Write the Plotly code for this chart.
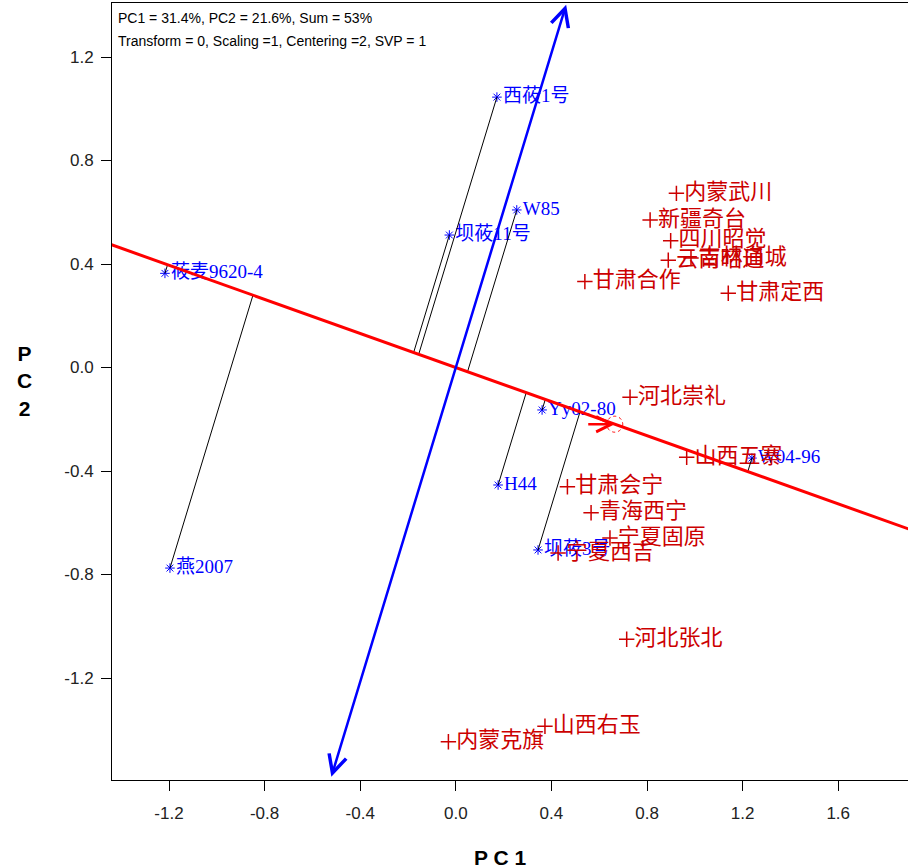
import numpy as np
import plotly.graph_objects as go

# Genotype scores on PC1 / PC2
genotypes = ["西莜1号", "W85", "坝莜11号", "莜麦9620-4", "燕2007",
             "H44", "Yy02-80", "坝莜3号", "W04-96"]
geno_pc1 = [0.172, 0.255, -0.027, -1.217, -1.196, 0.177, 0.361, 0.344, 1.239]
geno_pc2 = [1.045, 0.609, 0.512, 0.364, -0.775, -0.454, -0.164, -0.705, -0.350]

# Environment scores on PC1 / PC2
environments = ["内蒙武川", "新疆奇台", "四川昭觉", "云南昭通", "吉林白城",
                "甘肃合作", "甘肃定西", "河北崇礼", "山西五寨", "甘肃会宁",
                "青海西宁", "宁夏固原", "宁夏西吉", "河北张北", "山西右玉", "内蒙克旗"]
env_pc1 = [0.923, 0.813, 0.899, 0.889, 0.984, 0.540, 1.140, 0.729, 0.966,
           0.467, 0.566, 0.645, 0.428, 0.715, 0.373, -0.031]
env_pc2 = [0.673, 0.570, 0.490, 0.415, 0.423, 0.332, 0.287, -0.115, -0.347,
           -0.461, -0.561, -0.659, -0.717, -1.050, -1.386, -1.446]

# Average environment coordinate (defines the AEC abscissa)
avg_env = [0.665, -0.219]
# Extent of the AEC ordinate along its direction (bottom, top)
ordinate_ends = [-1.671, 1.476]

tick_vals = [-1.2, -0.8, -0.4, 0.0, 0.4, 0.8, 1.2, 1.6]
ytick_vals = [-1.2, -0.8, -0.4, 0.0, 0.4, 0.8, 1.2]

BLUE = "#0000ff"
RED_TXT = "#cc0000"
RED_LINE = "#ff0000"
LABEL_FONT_G = "Liberation Serif, Noto Sans CJK SC, serif"
LABEL_FONT_E = "Noto Sans CJK SC, sans-serif"
AX_FONT = "Liberation Sans, Arial, sans-serif"

# unit vectors of the abscissa (u) and ordinate (v)
u = np.array(avg_env) / np.linalg.norm(avg_env)
v = np.array([-u[1], u[0]])
if v[1] < 0:
    v = -v

fig = go.Figure()

# genotype labels
fig.add_trace(go.Scatter(
    x=geno_pc1, y=geno_pc2, mode="markers+text",
    text=genotypes, textposition="middle right",
    textfont=dict(family=LABEL_FONT_G, size=19, color=BLUE),
    marker=dict(symbol="asterisk-open", size=8, line=dict(width=1, color=BLUE), color=BLUE),
    hoverinfo="skip", showlegend=False, cliponaxis=False))

# environment labels
fig.add_trace(go.Scatter(
    x=env_pc1, y=env_pc2, mode="markers+text",
    text=environments, textposition="middle right",
    textfont=dict(family=LABEL_FONT_E, size=22, color=RED_TXT),
    marker=dict(symbol="cross-thin-open", size=11, line=dict(width=1.5, color=RED_TXT), color=RED_TXT),
    hoverinfo="skip", showlegend=False, cliponaxis=False))

# perpendicular projections of genotypes onto the abscissa
px_, py_ = [], []
for gx, gy in zip(geno_pc1, geno_pc2):
    t = gx * u[0] + gy * u[1]
    px_ += [gx, t * u[0], None]
    py_ += [gy, t * u[1], None]
fig.add_trace(go.Scatter(x=px_, y=py_, mode="lines",
                         line=dict(color="black", width=1),
                         hoverinfo="skip", showlegend=False))

# abscissa through the origin and the average environment
ts = np.array([-1.7, 2.2])
fig.add_trace(go.Scatter(x=ts * u[0], y=ts * u[1], mode="lines",
                         line=dict(color=RED_LINE, width=3),
                         hoverinfo="skip", showlegend=False))

# ordinate with arrowheads at both ends
b0, b1 = ordinate_ends
fig.add_annotation(x=b1 * v[0], y=b1 * v[1], ax=b0 * v[0], ay=b0 * v[1],
                   xref="x", yref="y", axref="x", ayref="y", text="",
                   showarrow=True, arrowhead=5, startarrowhead=5, arrowside="end+start",
                   arrowwidth=2.5, arrowsize=1.4, startarrowsize=1.4, arrowcolor=BLUE)

# arrow marking the average environment
fig.add_annotation(x=avg_env[0], y=avg_env[1], ax=-28, ay=0, text="",
                   showarrow=True, arrowhead=5, arrowwidth=2.5, arrowsize=1.2,
                   arrowcolor=RED_LINE)
fig.add_shape(type="circle", xref="x", yref="y", xsizemode="pixel", ysizemode="pixel",
              xanchor=avg_env[0], yanchor=avg_env[1], x0=-8, x1=8, y0=-8, y1=8,
              line=dict(color=RED_LINE, width=1, dash="dot"), layer="above")

# header text
fig.add_annotation(xref="paper", yref="paper", x=0.005, y=0.9807, xanchor="left", yanchor="middle",
                   text="PC1 = 31.4%, PC2 = 21.6%, Sum = 53%", showarrow=False,
                   font=dict(family=AX_FONT, size=14, color="black"))
fig.add_annotation(xref="paper", yref="paper", x=0.005, y=0.9511, xanchor="left", yanchor="middle",
                   text="Transform = 0, Scaling =1, Centering =2, SVP = 1", showarrow=False,
                   font=dict(family=AX_FONT, size=14, color="black"))

# axis titles
fig.add_annotation(xref="paper", yref="paper", x=0.4874, y=-0.0991, xanchor="center", yanchor="middle",
                   text="<b>P C 1</b>", showarrow=False,
                   font=dict(family=AX_FONT, size=21, color="black"))
fig.add_annotation(xref="paper", yref="paper", x=-0.1093, y=0.5135, xanchor="center", yanchor="middle",
                   text="<b>P<br>C<br>2</b>", showarrow=False,
                   font=dict(family=AX_FONT, size=21, color="black"))

fig.update_xaxes(range=[-1.4385, 1.892], tickvals=tick_vals,
                 ticktext=[f"{t:.1f}" for t in tick_vals],
                 ticks="outside", ticklen=10, tickcolor="black", tickwidth=1,
                 showline=True, linecolor="black", linewidth=1, mirror=True,
                 showgrid=False, zeroline=False, ticklabelstandoff=8,
                 tickfont=dict(family=AX_FONT, size=17, color="#222"))
fig.update_yaxes(range=[-1.594, 1.4087], tickvals=ytick_vals,
                 ticktext=[f"{t:.1f}" for t in ytick_vals],
                 ticks="outside", ticklen=10, tickcolor="black", tickwidth=1,
                 showline=True, linecolor="black", linewidth=1, mirror=False,
                 showgrid=False, zeroline=False, ticklabelstandoff=4,
                 tickfont=dict(family=AX_FONT, size=17, color="#222"))

fig.update_layout(width=908, height=868, margin=dict(l=112, r=0, t=3, b=88),
                  paper_bgcolor="white", plot_bgcolor="white", showlegend=False)

fig.write_html("out.html")
